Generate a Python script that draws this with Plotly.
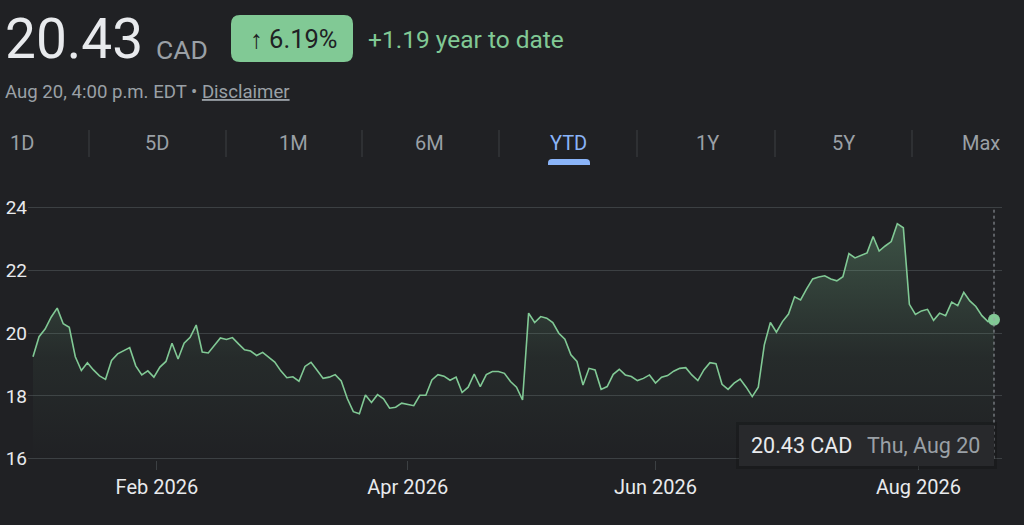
import pandas as pd
import plotly.graph_objects as go

# ---------------- data ----------------
prices = [
    19.25, 19.89, 20.13, 20.51, 20.80, 20.30, 20.19, 19.25, 18.81, 19.06,
    18.83, 18.64, 18.53, 19.13, 19.34, 19.45, 19.54, 18.96, 18.67, 18.80,
    18.60, 18.92, 19.10, 19.68, 19.18, 19.68, 19.87, 20.26, 19.40, 19.37,
    19.60, 19.85, 19.80, 19.86, 19.66, 19.47, 19.43, 19.29, 19.39, 19.23,
    19.08, 18.80, 18.58, 18.61, 18.47, 18.94, 19.07, 18.82, 18.56, 18.60,
    18.68, 18.48, 17.92, 17.50, 17.43, 18.03, 17.79, 18.04, 17.91, 17.61,
    17.64, 17.77, 17.72, 17.69, 18.02, 18.02, 18.51, 18.68, 18.63, 18.50,
    18.60, 18.11, 18.28, 18.70, 18.30, 18.68, 18.78, 18.78, 18.72, 18.46,
    18.28, 17.87, 20.64, 20.34, 20.53, 20.48, 20.34, 20.00, 19.81, 19.31,
    19.10, 18.35, 18.88, 18.83, 18.21, 18.30, 18.69, 18.85, 18.67, 18.62,
    18.49, 18.56, 18.67, 18.41, 18.60, 18.65, 18.79, 18.88, 18.90, 18.67,
    18.49, 18.83, 19.06, 19.03, 18.37, 18.21, 18.41, 18.54, 18.28, 17.98,
    18.28, 19.63, 20.34, 20.03, 20.37, 20.61, 21.16, 21.06, 21.41, 21.73,
    21.79, 21.83, 21.73, 21.67, 21.80, 22.54, 22.40, 22.47, 22.56, 23.08,
    22.62, 22.78, 22.92, 23.49, 23.36, 20.92, 20.60, 20.71, 20.76, 20.41,
    20.64, 20.56, 20.99, 20.88, 21.30, 21.03, 20.85, 20.56, 20.37, 20.43,
]
first_date = "2026-01-02"
last_date = "2026-08-20"
market_holidays = ["2026-01-01", "2026-02-16", "2026-04-03",
                   "2026-05-18", "2026-07-01", "2026-08-03"]
month_starts = ["2026-02-01", "2026-04-01", "2026-06-01", "2026-08-01"]
month_labels = ["Feb 2026", "Apr 2026", "Jun 2026", "Aug 2026"]
y_ticks = [16, 18, 20, 22, 24]
tabs = ["1D", "5D", "1M", "6M", "YTD", "1Y", "5Y", "Max"]
active_tab = "YTD"
price_text = "20.43"
currency = "CAD"
change_pct = "6.19%"
change_abs = "+1.19"
timestamp = "Aug 20, 4:00 p.m. EDT"
tooltip_date = "Thu, Aug 20"

# trading days (category positions)
hol = set(pd.to_datetime(market_holidays))
dates = [d for d in pd.bdate_range(first_date, last_date) if d not in hol]
n = len(prices)
dates = dates[:n]
xpos = list(range(n))

def month_pos(m):
    m = pd.Timestamp(m)
    k = sum(1 for d in dates if d < m)
    return k if (k < n and dates[k] == m) else k - 0.5

tick_pos = [month_pos(m) for m in month_starts]

# ---------------- layout helpers ----------------
W, H = 1024, 525
L, R, T, B = 28, 22, 192, 65
PW, PH = W - L - R, H - T - B
BG = "#202124"
GREEN = "#81c995"
GRID = "#3c4043"
FONT = "Roboto, Arial, sans-serif"

def px(x):
    return (x - L) / PW

def py(y):
    return (H - B - y) / PH

def rrect(x0, y0, x1, y1, r):
    X0, X1 = px(x0), px(x1)
    Y0, Y1 = py(y0), py(y1)   # Y0 top, Y1 bottom
    rx, ry = r / PW, r / PH
    return (f"M{X0+rx},{Y0} L{X1-rx},{Y0} Q{X1},{Y0} {X1},{Y0-ry} "
            f"L{X1},{Y1+ry} Q{X1},{Y1} {X1-rx},{Y1} L{X0+rx},{Y1} "
            f"Q{X0},{Y1} {X0},{Y1+ry} L{X0},{Y0-ry} Q{X0},{Y0} {X0+rx},{Y0} Z")

def toprounded(x0, y0, x1, y1, r):
    X0, X1 = px(x0), px(x1)
    Y0, Y1 = py(y0), py(y1)
    rx, ry = r / PW, r / PH
    return (f"M{X0},{Y1} L{X0},{Y0-ry} Q{X0},{Y0} {X0+rx},{Y0} "
            f"L{X1-rx},{Y0} Q{X1},{Y0} {X1},{Y0-ry} L{X1},{Y1} Z")

fig = go.Figure()
fig.add_trace(go.Scatter(
    x=xpos, y=prices, mode="lines",
    line=dict(color=GREEN, width=1.6),
    fill="tozeroy",
    fillgradient=dict(type="vertical", start=16, stop=24,
                      colorscale=[[0, "rgba(129,201,149,0.0)"],
                                  [0.4, "rgba(129,201,149,0.06)"],
                                  [1, "rgba(129,201,149,0.32)"]]),
    hoverinfo="skip", showlegend=False,
))
fig.add_trace(go.Scatter(
    x=[xpos[-1]], y=[prices[-1]], mode="markers",
    marker=dict(color=GREEN, size=12),
    hoverinfo="skip", showlegend=False,
))

shapes = []
annotations = []

def text(x, y, s, size, color, anchor="left"):
    annotations.append(dict(
        x=px(x), y=py(y), xref="paper", yref="paper", text=s,
        showarrow=False, xanchor=anchor, yanchor="middle",
        font=dict(family=FONT, size=size, color=color)))

# header
text(3, 39, price_text, 55, "#e8eaed")
text(154, 49, currency, 26.5, "#9aa0a6")
shapes.append(dict(type="path", xref="paper", yref="paper",
                   path=rrect(231, 15, 353, 62, 9), fillcolor=GREEN, line_width=0))
text(293, 39, "↑ " + change_pct, 25.5, "#202124", "center")
text(366, 39, change_abs + " year to date", 24.5, GREEN)
text(3, 92, timestamp + " • <u>Disclaimer</u>", 18.6, "#9aa0a6")

# tabs
tab_x = [22, 157, 293, 429, 568, 707, 843, 981]
for t, x in zip(tabs, tab_x):
    text(x, 143, t, 20, "#8ab4f8" if t == active_tab else "#9aa0a6", "center")
for x in [89, 226, 362, 499, 637, 775, 912]:
    shapes.append(dict(type="line", xref="paper", yref="paper",
                       x0=px(x), x1=px(x), y0=py(130), y1=py(157),
                       line=dict(color=GRID, width=1)))
shapes.append(dict(type="path", xref="paper", yref="paper",
                   path=toprounded(548, 159, 590, 165, 4),
                   fillcolor="#8ab4f8", line_width=0))

# crosshair + tooltip
shapes.append(dict(type="line", xref="x", yref="y",
                   x0=xpos[-1], x1=xpos[-1], y0=y_ticks[0], y1=y_ticks[-1],
                   line=dict(color="#9aa0a6", width=1, dash="dot"), layer="above"))
shapes.append(dict(type="rect", xref="paper", yref="paper",
                   x0=px(736), x1=px(997), y0=py(422), y1=py(469),
                   fillcolor="rgba(0,0,0,0.18)", line_width=0, layer="above"))
shapes.append(dict(type="rect", xref="paper", yref="paper",
                   x0=px(739), x1=px(994), y0=py(425), y1=py(466),
                   fillcolor="#28292c", line_width=0, layer="above"))
text(749, 445, f"{prices[-1]:.2f} {currency}", 21.5, "#e8eaed")
text(865, 445, tooltip_date, 21.5, "#9aa0a6")

y_lo = 16 - (460 - 458.7) / 31.375
y_hi = 24 + (207.7 - 192) / 31.375
x_lo = (L - 33) / 6.044
x_hi = (W - R - 33) / 6.044

fig.update_layout(
    width=W, height=H,
    margin=dict(l=L, r=R, t=T, b=B, pad=0),
    paper_bgcolor=BG, plot_bgcolor=BG,
    hovermode=False,
    shapes=shapes, annotations=annotations,
    xaxis=dict(range=[x_lo, x_hi], tickvals=tick_pos, ticktext=month_labels,
               showgrid=False, zeroline=False, showline=False, automargin=False,
               ticks="outside", ticklen=9, tickcolor=GRID, tickwidth=1,
               tickfont=dict(family=FONT, size=20, color="#e8eaed")),
    yaxis=dict(range=[y_lo, y_hi], tickvals=y_ticks, automargin=False,
               showgrid=True, gridcolor=GRID, gridwidth=1,
               zeroline=False, showline=False, ticks="",
               tickfont=dict(family=FONT, size=19, color="#e8eaed")),
    font=dict(family=FONT),
)

fig.write_html("out.html", config={"displayModeBar": False},
               post_script="document.body.style.margin='0';")
